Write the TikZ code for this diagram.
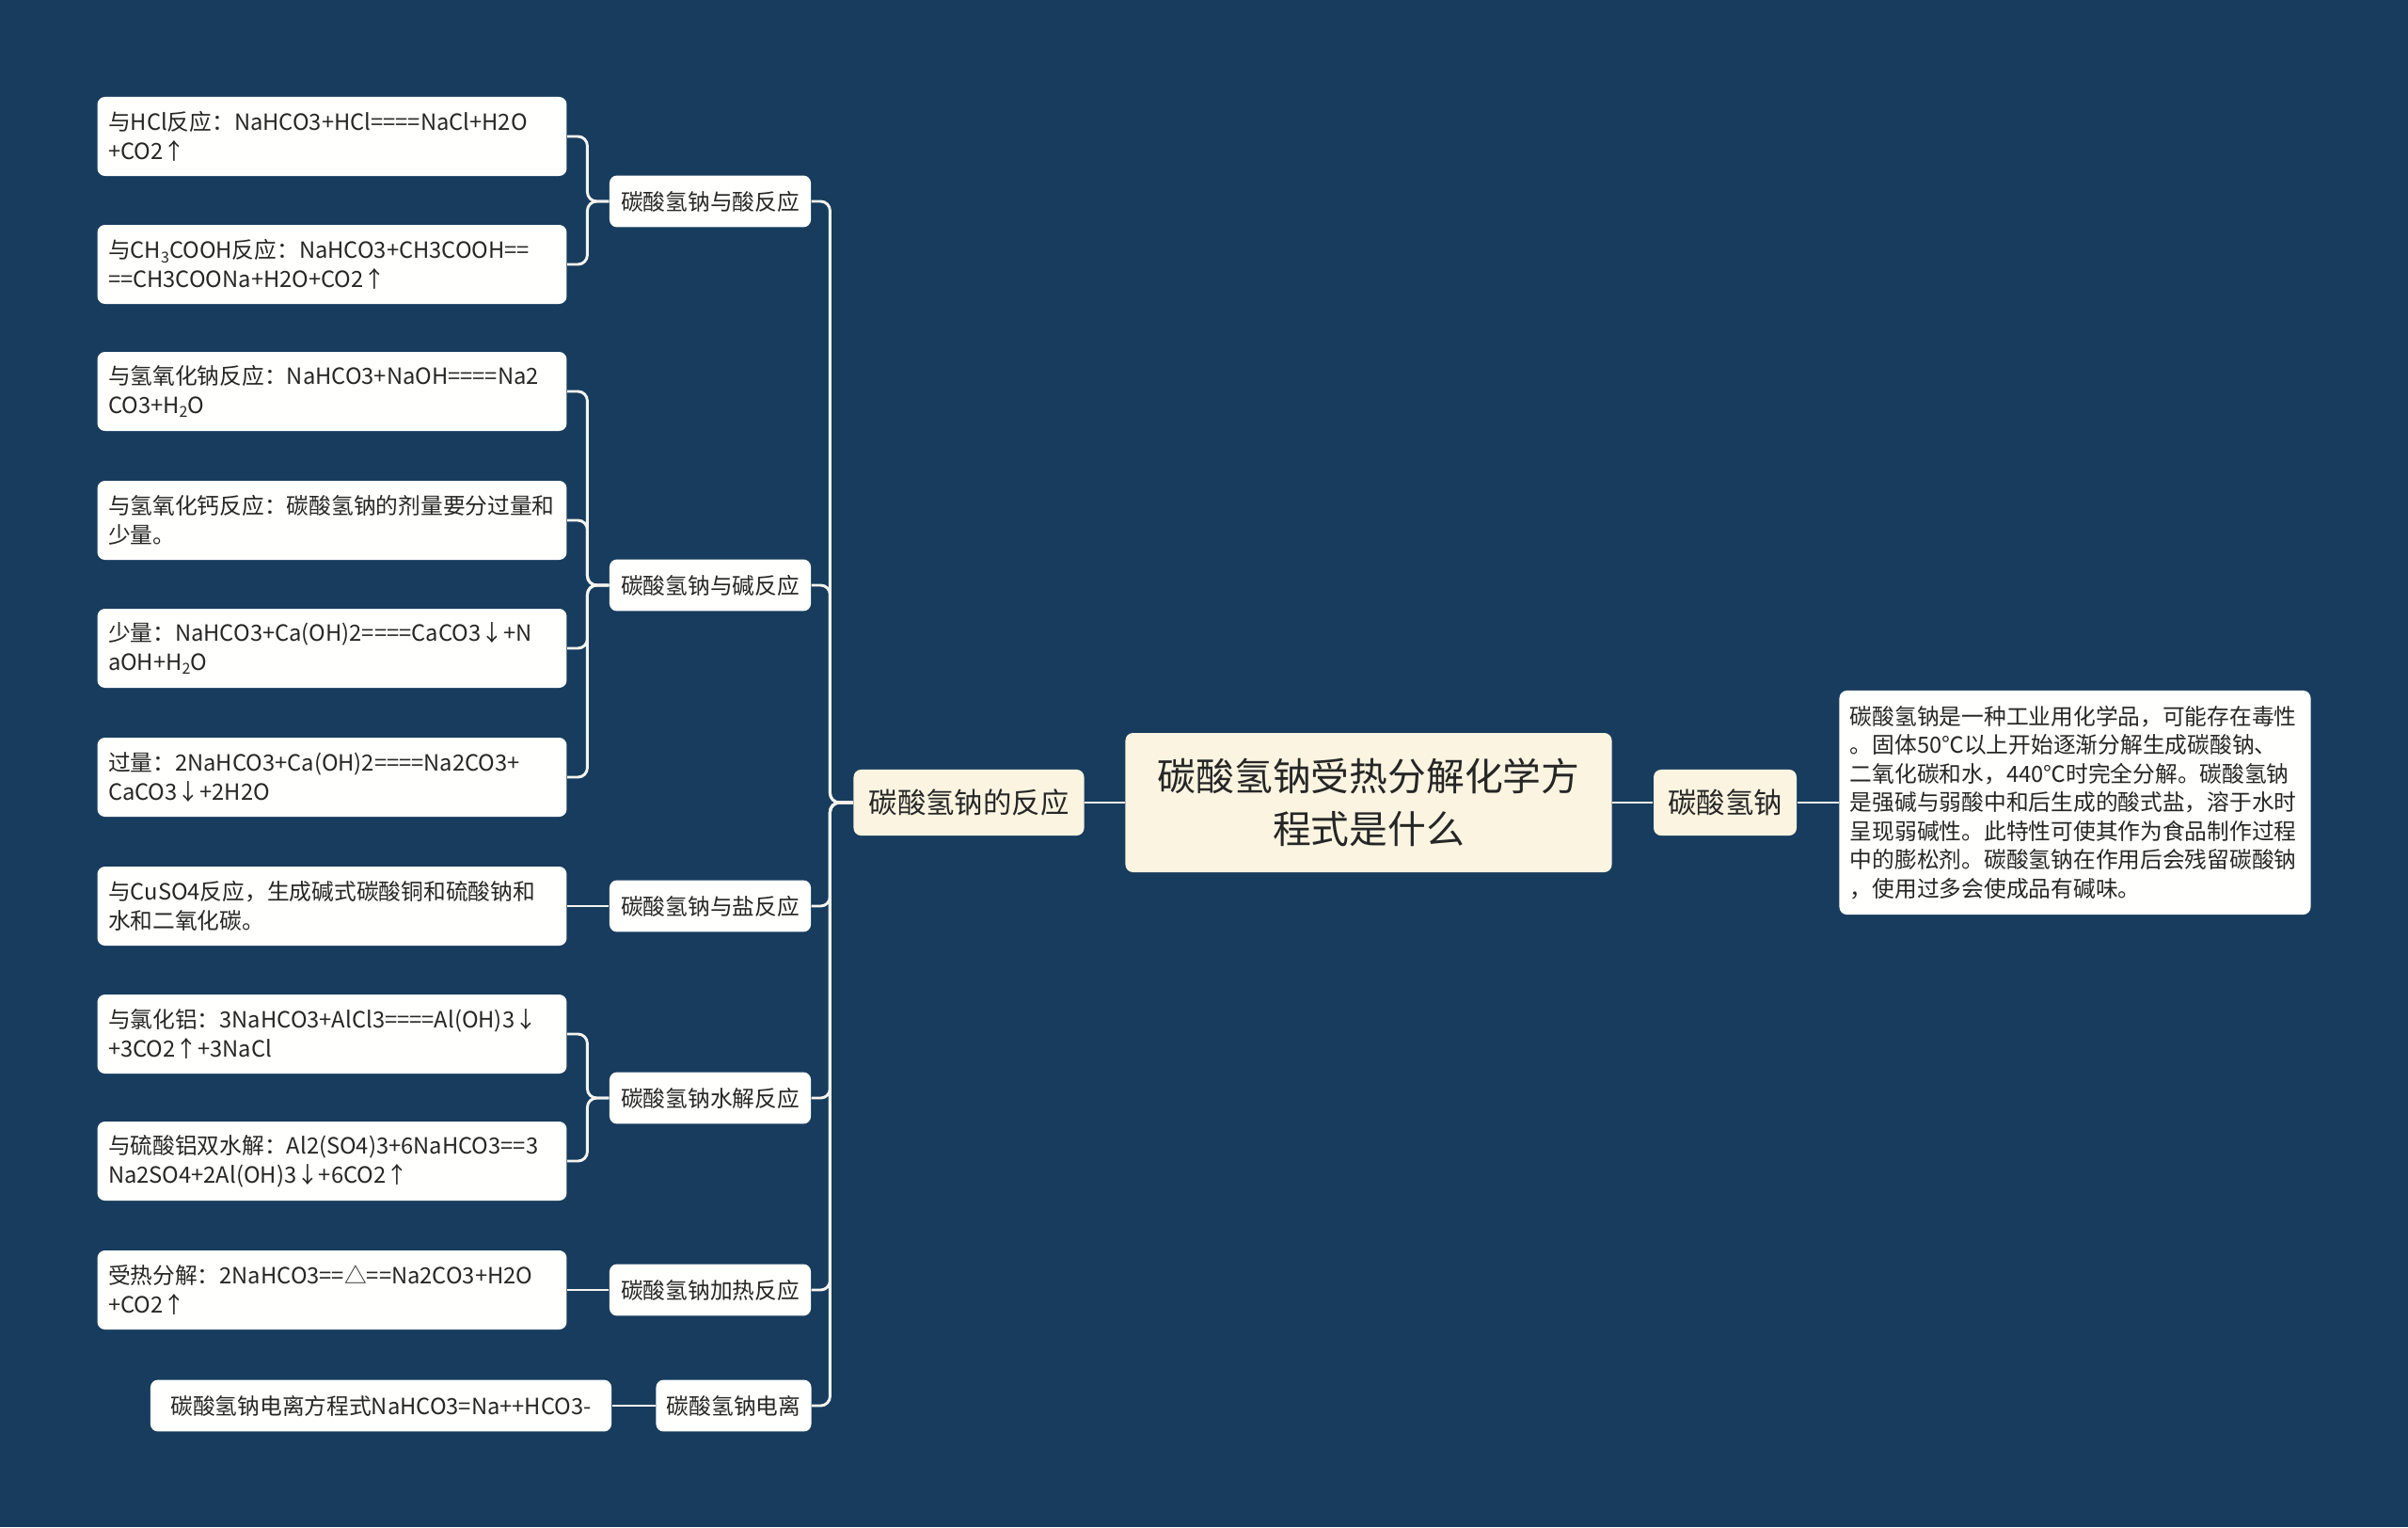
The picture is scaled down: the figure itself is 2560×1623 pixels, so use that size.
\documentclass[tikz,border=0pt]{standalone}
\usepackage{fontspec}
\setmainfont{Noto Sans CJK SC}
\definecolor{bg}{HTML}{173C5D}
\definecolor{cream}{HTML}{FAF4E0}
\definecolor{leaffill}{HTML}{FFFFFD}
\definecolor{txt}{HTML}{262626}
\definecolor{linkc}{HTML}{F4F4EE}
\newcommand\sbs[1]{\raisebox{-0.35ex}{\fontsize{6}{6}\selectfont #1}}
\tikzset{
 base/.style={rounded corners=3pt, text=txt, inner sep=0pt},
 leaf/.style={base, fill=leaffill, minimum height=31.5pt, text width=178.5pt, inner xsep=4.3pt, align=left, font=\fontsize{8.9}{11.6}\selectfont},
 leafone/.style={base, fill=leaffill, minimum height=20.6pt, minimum width=183.8pt, align=center, font=\fontsize{8.9}{11.6}\selectfont},
 mid/.style={base, fill=leaffill, minimum height=20.6pt, minimum width=80.3pt, align=center, font=\fontsize{8.9}{11.6}\selectfont},
 lone/.style={base, fill=cream, minimum height=26.3pt, align=center, font=\fontsize{11.4}{14}\selectfont},
 rootnode/.style={base, fill=cream, minimum width=193.9pt, minimum height=55.5pt, align=center, font=\fontsize{15.3}{20.8}\selectfont},
 desc/.style={base, fill=leaffill, minimum height=89.3pt, text width=179.3pt, inner xsep=4.3pt, align=left, font=\fontsize{8.9}{11.45}\selectfont},
 link/.style={draw=linkc, line width=1.1pt, rounded corners=3.75pt},
}
\begin{document}
\begin{tikzpicture}[x=0.375pt,y=-0.375pt]
\fill[bg] (0,0) rectangle (2560,1623);
\useasboundingbox (0,0) rectangle (2560,1623);

\node[rootnode] (root) at (1455,853) {碳酸氢钠受热分解化学方\\程式是什么};
\node[lone, minimum width=91.9pt] (L1) at (1030,853) {碳酸氢钠的反应};
\node[lone, minimum width=57pt] (R1) at (1834,853) {碳酸氢钠};
\node[desc] (R1leaf) at (2206,853) {碳酸氢钠是一种工业用化学品，可能存在毒性\\。固体50℃以上开始逐渐分解生成碳酸钠、\\二氧化碳和水，440℃时完全分解。碳酸氢钠\\是强碱与弱酸中和后生成的酸式盐，溶于水时\\呈现弱碱性。此特性可使其作为食品制作过程\\中的膨松剂。碳酸氢钠在作用后会残留碳酸钠\\，使用过多会使成品有碱味。};

\node[mid] (m1) at (755,214) {碳酸氢钠与酸反应};
\node[mid] (m2) at (755,622) {碳酸氢钠与碱反应};
\node[mid] (m3) at (755,963) {碳酸氢钠与盐反应};
\node[mid] (m4) at (755,1167) {碳酸氢钠水解反应};
\node[mid] (m5) at (755,1371) {碳酸氢钠加热反应};
\node[mid, minimum width=61.9pt] (m6) at (780,1494) {碳酸氢钠电离};

\node[leaf] (l1) at (353,145) {与HCl反应：NaHCO3+HCl====NaCl+H2O\\+CO2↑};
\node[leaf] (l2) at (353,281) {与CH\sbs{3}COOH反应：NaHCO3+CH3COOH==\\==CH3COONa+H2O+CO2↑};
\node[leaf] (l3) at (353,416) {与氢氧化钠反应：NaHCO3+NaOH====Na2\\CO3+H\sbs{2}O};
\node[leaf] (l4) at (353,553) {与氢氧化钙反应：碳酸氢钠的剂量要分过量和\\少量。};
\node[leaf] (l5) at (353,689) {少量：NaHCO3+Ca(OH)2====CaCO3↓+N\\aOH+H\sbs{2}O};
\node[leaf] (l6) at (353,826) {过量：2NaHCO3+Ca(OH)2====Na2CO3+\\CaCO3↓+2H2O};
\node[leaf] (l7) at (353,963) {与CuSO4反应，生成碱式碳酸铜和硫酸钠和\\水和二氧化碳。};
\node[leaf] (l8) at (353,1099) {与氯化铝：3NaHCO3+AlCl3====Al(OH)3↓\\+3CO2↑+3NaCl};
\node[leaf] (l9) at (353,1234) {与硫酸铝双水解：Al2(SO4)3+6NaHCO3==3\\Na2SO4+2Al(OH)3↓+6CO2↑};
\node[leaf] (l10) at (353,1371) {受热分解：2NaHCO3==△==Na2CO3+H2O\\+CO2↑};
\node[leafone] (l11) at (405,1494) {碳酸氢钠电离方程式NaHCO3=Na++HCO3-};

\draw[link] (root.west) -- (L1.east);
\draw[link] (root.east) -- (R1.west);
\draw[link] (R1.east) -- (R1leaf.west);
\foreach \m in {m1,m2,m3,m4,m5,m6}
  \draw[link] (L1.west) -- ++(-24.5,0) |- (\m.east);
\foreach \l in {l1,l2}
  \draw[link] (m1.west) -- ++(-23,0) |- (\l.east);
\foreach \l in {l3,l4,l5,l6}
  \draw[link] (m2.west) -- ++(-23,0) |- (\l.east);
\foreach \l in {l8,l9}
  \draw[link] (m4.west) -- ++(-23,0) |- (\l.east);
\draw[link] (m3.west) -- (l7.east);
\draw[link] (m5.west) -- (l10.east);
\draw[link] (m6.west) -- (l11.east);
\end{tikzpicture}
\end{document}
